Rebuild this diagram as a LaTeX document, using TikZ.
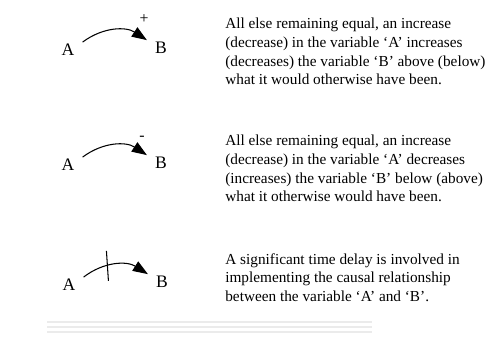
\documentclass[tikz,border=0pt]{standalone}
\usepackage{fontspec}
\setmainfont{Liberation Serif}
\usetikzlibrary{arrows.meta}

\begin{document}
\begin{tikzpicture}[x=0.02cm, y=-0.02cm, >={Triangle[length=0.3cm, width=0.22cm]},
  var/.style={inner xsep=4.5pt, inner ysep=1pt, font=\fontsize{10}{12}\selectfont},
  causal/.style={->, semithick, bend left=35},
  polarity/.style={inner sep=0pt, font=\fontsize{9}{10}\selectfont},
  legend/.style={anchor=north west, inner sep=0pt, align=left, font=\fontsize{8.7}{10.6}\selectfont}]
  \useasboundingbox (0,0) rectangle (490,336);
  % positive link
  \node[var] (a1) at (68,50) {A};
  \node[var] (b1) at (161,48) {B};
  \draw[causal] (a1.north east) to (b1.north west);
  \node[polarity] (p1) at (144,19) {+};
  \node[legend] (t1) at (225,18) {All else remaining equal, an increase\\(decrease) in the variable ‘A’ increases\\(decreases) the variable ‘B’ above (below)\\what it would otherwise have been.};
  % negative link
  \node[var] (a2) at (68,165) {A};
  \node[var] (b2) at (161,163) {B};
  \draw[causal] (a2.north east) to (b2.north west);
  \node[polarity] (p2) at (142,138) {-};
  \node[legend] (t2) at (225,135) {All else remaining equal, an increase\\(decrease) in the variable ‘A’ decreases\\(increases) the variable ‘B’ below (above)\\what it otherwise would have been.};
  % delayed link
  \node[var] (a3) at (69,285) {A};
  \node[var] (b3) at (162,282) {B};
  \draw[causal] (a3.north east) to coordinate[pos=0.38] (d3) (b3.north west);
  \draw[semithick] (d3) ++(-1,-15) -- ++(2,30);
  \node[legend] (t3) at (225,253) {A significant time delay is involved in\\implementing the causal relationship\\between the variable ‘A’ and ‘B’.};
  % faint scan lines at the foot
  \draw[black!8, line width=1.2pt] (47,322) -- (372,322);
  \draw[black!8, line width=1.2pt] (47,327) -- (372,327);
  \draw[black!8, line width=1.2pt] (47,332) -- (372,332);
\end{tikzpicture}
\end{document}
